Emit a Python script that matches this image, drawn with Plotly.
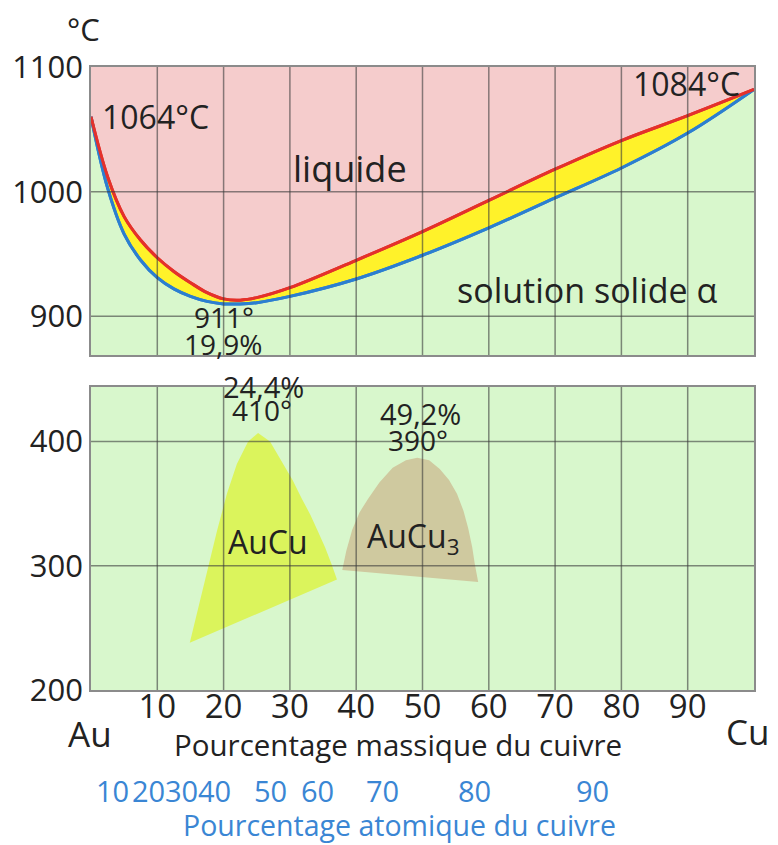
import plotly.graph_objects as go

# ---------------- data ----------------
mass_x = [0, 2.5, 5, 7.5, 10, 12.5, 15, 17.5, 20, 22.5, 25, 30, 40, 50, 60, 70, 80, 90, 100]
liquidus = [1060, 1012, 980, 961, 947, 936, 927, 919, 914, 913, 915, 923, 945, 968, 993, 1018, 1041, 1061, 1082]
solidus = [1060, 1003, 966, 945, 931, 922, 916, 912, 910, 910, 911, 916, 930, 949, 971, 995, 1019, 1047, 1082]

aucu_x = [14.9, 17.0, 19.0, 20.5, 22.0, 23.7, 25.2, 27.0, 28.8, 30.4, 31.8, 33.1, 34.2, 35.3, 36.3, 37.1, 14.9]
aucu_t = [238, 285, 328, 358, 382, 400, 407, 400, 384, 369, 354, 341, 328, 315, 301, 289, 238]
aucu3_x = [37.9, 38.5, 39.4, 40.5, 41.8, 43.5, 45.5, 47.5, 49.2, 51.0, 52.6, 54.0, 55.2, 56.2, 56.9, 57.5, 57.9, 58.4, 37.9]
aucu3_t = [296.7, 312, 329, 343, 354, 367, 379, 385, 387, 385, 378, 369, 358, 344, 330, 315, 301, 287, 296.7]

mass_ticks = [10, 20, 30, 40, 50, 60, 70, 80, 90]
top_yticks = [900, 1000, 1100]
bot_yticks = [200, 300, 400]
atomic_labels = ["10", "20", "30", "40", "50", "60", "70", "80", "90"]
atomic_pos = [3.2, 8.6, 13.6, 18.7, 27.0, 34.2, 44.0, 57.8, 75.6]

# ---------------- style ----------------
FONT = "Open Sans"
TXT = "#222222"
BLUE_TXT = "#3a86d4"
PINK = "#f5cccc"
GREEN = "#d8f7cc"
YELLOW = "#fff22a"
RED = "#e4312b"
BLUE = "#2c7fd0"
GRID = "rgba(60,60,60,0.6)"

# page body adds an 8px offset; figure is sized so the plot lands where intended
W, H = 770, 837
ML, MR, MT, MB = 83, 24, 59, 155
PW = W - ML - MR
PH = H - MT - MB


def px(xp):  # screen pixel -> paper x
    return (xp - 8 - ML) / PW


def py(yp):  # screen pixel -> paper y
    return (H - MB - (yp - 8)) / PH


fig = go.Figure()

fig.add_trace(go.Scatter(x=mass_x, y=solidus, mode="lines", line=dict(color=BLUE, width=3, shape="spline"),
                         fill="tozeroy", fillcolor=GREEN, xaxis="x", yaxis="y", hoverinfo="skip"))
fig.add_trace(go.Scatter(x=mass_x, y=liquidus, mode="lines", line=dict(color=RED, width=3, shape="spline"),
                         fill="tonexty", fillcolor=YELLOW, xaxis="x", yaxis="y", hoverinfo="skip"))
fig.add_trace(go.Scatter(x=mass_x, y=solidus, mode="lines", line=dict(color=BLUE, width=3, shape="spline"),
                         xaxis="x", yaxis="y", hoverinfo="skip"))
fig.add_trace(go.Scatter(x=mass_x, y=liquidus, mode="lines", line=dict(color=RED, width=3, shape="spline"),
                         xaxis="x", yaxis="y", hoverinfo="skip"))

fig.add_trace(go.Scatter(x=aucu_x, y=aucu_t, mode="lines", line=dict(width=0),
                         fill="toself", fillcolor="#dbf45c", xaxis="x2", yaxis="y2", hoverinfo="skip"))
fig.add_trace(go.Scatter(x=aucu3_x, y=aucu3_t, mode="lines", line=dict(width=0),
                         fill="toself", fillcolor="#cfc99f", xaxis="x2", yaxis="y2", hoverinfo="skip"))

shapes = [dict(type="rect", xref="x domain", yref="y domain", x0=0, x1=1, y0=0, y1=1,
               fillcolor=PINK, line=dict(width=0), layer="below")]
for v in mass_ticks:
    shapes.append(dict(type="line", xref="x", yref="y domain", x0=v, x1=v, y0=0, y1=1,
                       line=dict(color=GRID, width=1.5), layer="above"))
    shapes.append(dict(type="line", xref="x2", yref="y2 domain", x0=v, x1=v, y0=0, y1=1,
                       line=dict(color=GRID, width=1.5), layer="above"))
for v in top_yticks[:-1]:
    shapes.append(dict(type="line", xref="x domain", yref="y", x0=0, x1=1, y0=v, y1=v,
                       line=dict(color=GRID, width=1.5), layer="above"))
for v in bot_yticks[1:]:
    shapes.append(dict(type="line", xref="x2 domain", yref="y2", x0=0, x1=1, y0=v, y1=v,
                       line=dict(color=GRID, width=1.5), layer="above"))

ann = []


def t(text, xp, yp, size, color=TXT, xanchor="center", xref="paper", xv=None):
    ann.append(dict(text=text, x=(xv if xv is not None else px(xp)), y=py(yp), xref=xref, yref="paper",
                    showarrow=False, font=dict(family=FONT, size=size, color=color),
                    xanchor=xanchor, yanchor="middle"))


t("°C", 83, 29, 31)
t("1064°C", 155, 117, 32)
t("1084°C", 686, 83, 32)
t("liquide", 350, 168, 36)
t("solution solide α", 587, 290, 34)
t("911°", 224, 317, 28)
t("19,9%", 223, 344, 28)
t("24,4%", 263, 386, 29)
t("410°", 262, 410, 28)
t("49,2%", 420, 413, 29)
t("390°", 418, 440, 28)
t("AuCu", 268, 541, 32)
t("AuCu<sub>3</sub>", 413, 538, 32)
t("Au", 90, 733, 35)
t("Cu", 748, 731, 35)
t("Pourcentage massique du cuivre", 398, 745, 29.5)
for lab, pos in zip(atomic_labels, atomic_pos):
    t(lab, 0, 790, 29, color=BLUE_TXT, xref="x2", xv=pos)
t("Pourcentage atomique du cuivre", 399, 825, 28.5, color=BLUE_TXT)

axis_common = dict(showgrid=False, zeroline=False, showline=True, mirror=True, automargin=False,
                   linecolor="rgba(90,90,90,0.7)", linewidth=1.5, ticks="")

fig.update_layout(
    width=W, height=H,
    margin=dict(l=ML, r=MR, t=MT, b=MB, autoexpand=False),
    paper_bgcolor="white", plot_bgcolor=GREEN,
    showlegend=False,
    xaxis=dict(domain=[0, 1], range=[0, 100], anchor="y", showticklabels=False, **axis_common),
    yaxis=dict(domain=[0.5377, 1], range=[869, 1100], anchor="x", tickvals=top_yticks,
               tickfont=dict(family=FONT, size=31, color=TXT), **axis_common),
    xaxis2=dict(domain=[0, 1], range=[0, 100], anchor="y2", tickvals=mass_ticks,
                tickfont=dict(family=FONT, size=33, color=TXT), ticklabelstandoff=-13, **axis_common),
    yaxis2=dict(domain=[0, 0.4864], range=[200, 444], anchor="x2", tickvals=bot_yticks,
                tickfont=dict(family=FONT, size=31, color=TXT), **axis_common),
    shapes=shapes,
    annotations=ann,
)

fig.write_html("out.html")
